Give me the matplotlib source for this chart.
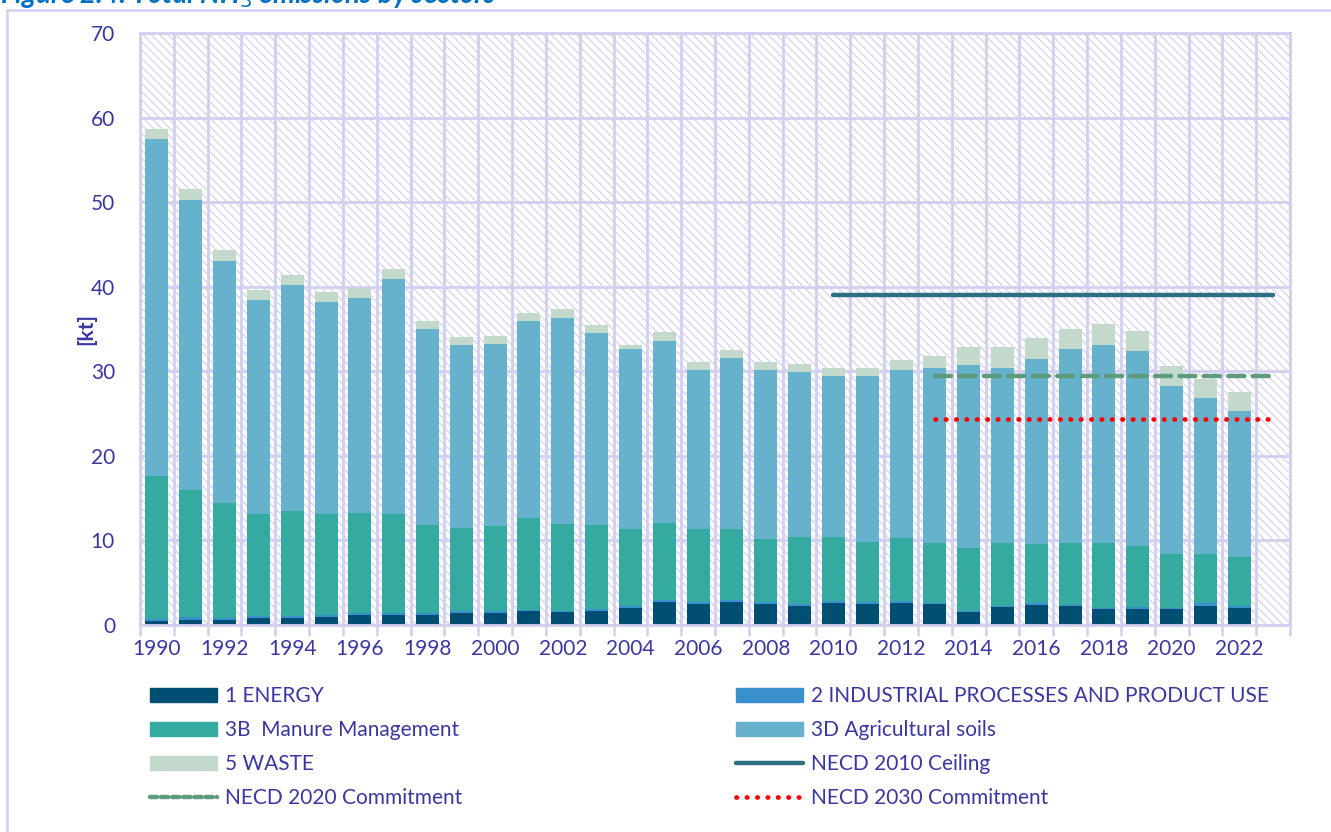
import matplotlib
matplotlib.use("Agg")
import matplotlib.pyplot as plt
from matplotlib.patches import Rectangle, Patch
from matplotlib.lines import Line2D
import numpy as np

plt.rcParams['font.family'] = ['Lato', 'DejaVu Sans']
plt.rcParams['hatch.linewidth'] = 0.9

# Data (kt)
years = list(range(1990, 2023))
energy = [0.45, 0.65, 0.55, 0.8, 0.8, 0.9, 1.15, 1.15, 1.15, 1.4, 1.4, 1.6, 1.5, 1.7, 2.0, 2.7, 2.45,
          2.7, 2.5, 2.3, 2.6, 2.5, 2.65, 2.5, 1.55, 2.1, 2.35, 2.2, 1.85, 1.95, 1.85, 2.3, 2.05]
industrial = [0.25, 0.25, 0.25, 0.25, 0.25, 0.25, 0.25, 0.25, 0.25, 0.25, 0.2, 0.2, 0.2, 0.2, 0.3, 0.3, 0.25,
              0.25, 0.2, 0.2, 0.2, 0.2, 0.15, 0.15, 0.1, 0.2, 0.25, 0.15, 0.2, 0.15, 0.2, 0.25, 0.2]
manure = [16.9, 15.1, 13.6, 12.05, 12.45, 11.95, 11.8, 11.7, 10.45, 9.85, 10.15, 10.9, 10.3, 9.95, 9.1, 9.1, 8.7,
          8.45, 7.5, 7.9, 7.65, 7.15, 7.45, 7.1, 7.4, 7.45, 7.0, 7.3, 7.6, 7.2, 6.3, 5.8, 5.75]
soils = [39.9, 34.3, 28.6, 25.3, 26.7, 25.1, 25.5, 27.8, 23.15, 21.6, 21.5, 23.2, 24.25, 22.65, 21.2, 21.5, 18.7,
         20.15, 20.0, 19.5, 18.95, 19.65, 19.85, 20.65, 21.75, 20.65, 21.9, 23.0, 23.4, 23.15, 19.95, 18.55, 17.35]
waste = [1.2, 1.2, 1.3, 1.2, 1.2, 1.2, 1.2, 1.2, 1.0, 1.0, 0.95, 1.05, 1.15, 1.0, 0.5, 1.0, 1.0,
         0.95, 0.9, 1.0, 0.95, 0.9, 1.2, 1.35, 2.1, 2.5, 2.4, 2.4, 2.55, 2.3, 2.3, 2.15, 2.15]

ceiling_years = [2010, 2023]
ceiling_2010 = [39.05, 39.05]
commit_years = [2013, 2023]
commit_2020 = [29.45, 29.45]
commit_2030 = [24.3, 24.3]

series = [
    ('1 ENERGY', energy, '#004F72'),
    ('2 INDUSTRIAL PROCESSES AND PRODUCT USE', industrial, '#3A90CC'),
    ('3B  Manure Management', manure, '#35AAA0'),
    ('3D Agricultural soils', soils, '#66B1CB'),
    ('5 WASTE', waste, '#C3D9CB'),
]

txt = '#3B37A0'
lav = '#D3CFF0'

fig = plt.figure(figsize=(13.31, 8.32), dpi=100)

# outer frame
fig.patches.append(Rectangle((7 / 1331, -0.1), 1.2, 1.1 - 10 / 832, transform=fig.transFigure,
                             facecolor='none', edgecolor=lav, lw=1.8))
fig.text(0.0, 1 - 3 / 832, 'Figure 2.4: Total NH$_3$ emissions by sectors', color='#0070C0',
         fontsize=20, fontstyle='italic', fontweight='bold', va='baseline', ha='left')

ax = fig.add_axes([140 / 1331, 1 - 625 / 832, 1150 / 1331, 592 / 832])
ax.add_patch(Rectangle((0, 0), 1, 1, transform=ax.transAxes, facecolor='white',
                       edgecolor='#D6D2F4', hatch='\\\\\\\\', lw=0, zorder=0))

bottom = np.zeros(len(years))
for label, vals, col in series:
    ax.bar(years, vals, width=0.68, bottom=bottom, color=col, label=label, zorder=2)
    bottom += np.array(vals)

ax.plot(ceiling_years, ceiling_2010, color='#2E6F82', lw=3.2, solid_capstyle='round', zorder=3)
ax.plot(commit_years, commit_2020, color='#5E9B7A', lw=3.2, dashes=(3.6, 1.9),
        dash_capstyle='round', zorder=3)
ax.plot(commit_years, commit_2030, color='#FF0000', lw=3.4, linestyle=(0, (0.1, 2.1)),
        dash_capstyle='round', zorder=3)

ax.set_xlim(1989.5, 2023.5)
ax.set_ylim(0, 70)
ax.set_yticks(range(0, 71, 10))
ax.set_xticks(range(1990, 2023, 2))
ax.set_xticks(np.arange(1989.5, 2024, 1), minor=True)
ax.set_axisbelow(True)
ax.grid(which='minor', axis='x', color=lav, lw=2)
ax.grid(which='major', axis='y', color=lav, lw=2)
ax.tick_params(axis='x', which='major', length=0, pad=10, labelsize=15, labelcolor=txt)
ax.tick_params(axis='x', which='minor', length=8, width=1.8, color=lav)
ax.tick_params(axis='y', length=0, pad=18, labelsize=15, labelcolor=txt)
for s in ax.spines.values():
    s.set_color(lav)
    s.set_linewidth(2)
ax.set_ylabel('[kt]', color=txt, fontsize=15, fontweight='bold', labelpad=-4)

# legend in two columns, placed separately
h_e = Patch(color='#004F72')
h_i = Patch(color='#3A90CC')
h_m = Patch(color='#35AAA0')
h_s = Patch(color='#66B1CB')
h_w = Patch(color='#C3D9CB')
h_c = Line2D([], [], color='#2E6F82', lw=3.2, solid_capstyle='round')
h_2020 = Line2D([], [], color='#5E9B7A', lw=3.2, dashes=(1.6, 0.9), dash_capstyle='round')
h_2030 = Line2D([], [], color='#FF0000', lw=3.4, linestyle=(0, (0.1, 2.1)), dash_capstyle='round')

leg_kw = dict(frameon=False, fontsize=15, labelcolor=txt, handlelength=3.2, handleheight=0.65,
              handletextpad=0.4, labelspacing=0.68, borderaxespad=0, borderpad=0, loc='upper left')
fig.legend([h_e, h_m, h_w, h_2020],
           ['1 ENERGY', '3B  Manure Management', '5 WASTE', 'NECD 2020 Commitment'],
           bbox_to_anchor=(150 / 1331, 1 - 686 / 832), **leg_kw)
fig.legend([h_i, h_s, h_c, h_2030],
           ['2 INDUSTRIAL PROCESSES AND PRODUCT USE', '3D Agricultural soils', 'NECD 2010 Ceiling',
            'NECD 2030 Commitment'],
           bbox_to_anchor=(736 / 1331, 1 - 686 / 832), **leg_kw)

fig.savefig('out.png', dpi=100)
